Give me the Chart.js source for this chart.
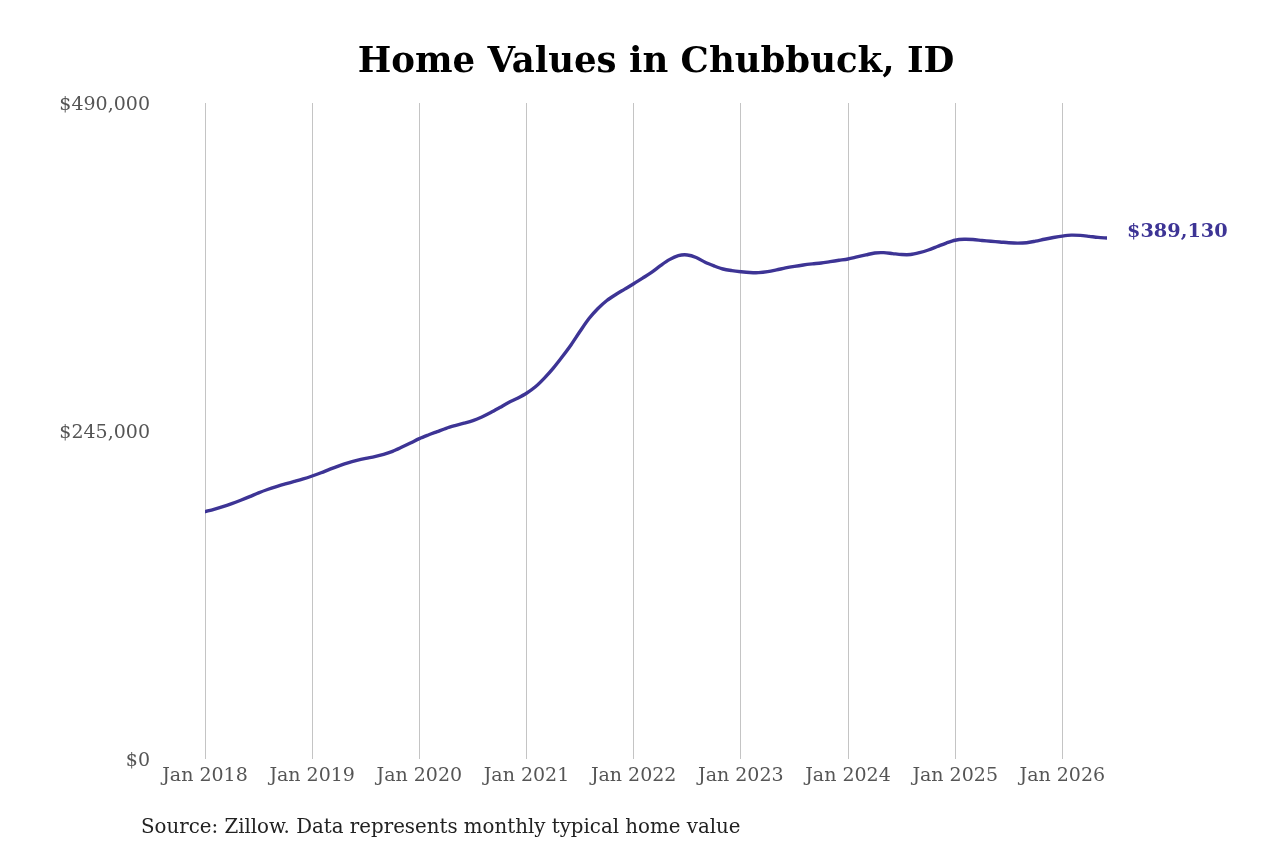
<!DOCTYPE html>
<html><head><meta charset="utf-8">
<script src="https://cdn.jsdelivr.net/npm/chart.js@4.4.1/dist/chart.umd.min.js"></script>
<style>html,body{margin:0;padding:0;background:#fff;overflow:hidden}#wrap{width:1280px;height:853px;position:relative}</style>
</head><body><div id="wrap"><canvas id="c" width="1280" height="853"></canvas></div>
<script>
const months = [
'Jan 2018','Feb 2018','Mar 2018','Apr 2018','May 2018','Jun 2018','Jul 2018','Aug 2018','Sep 2018','Oct 2018','Nov 2018','Dec 2018',
'Jan 2019','Feb 2019','Mar 2019','Apr 2019','May 2019','Jun 2019','Jul 2019','Aug 2019','Sep 2019','Oct 2019','Nov 2019','Dec 2019',
'Jan 2020','Feb 2020','Mar 2020','Apr 2020','May 2020','Jun 2020','Jul 2020','Aug 2020','Sep 2020','Oct 2020','Nov 2020','Dec 2020',
'Jan 2021','Feb 2021','Mar 2021','Apr 2021','May 2021','Jun 2021','Jul 2021','Aug 2021','Sep 2021','Oct 2021','Nov 2021','Dec 2021',
'Jan 2022','Feb 2022','Mar 2022','Apr 2022','May 2022','Jun 2022','Jul 2022','Aug 2022','Sep 2022','Oct 2022','Nov 2022','Dec 2022',
'Jan 2023','Feb 2023','Mar 2023','Apr 2023','May 2023','Jun 2023','Jul 2023','Aug 2023','Sep 2023','Oct 2023','Nov 2023','Dec 2023',
'Jan 2024','Feb 2024','Mar 2024','Apr 2024','May 2024','Jun 2024','Jul 2024','Aug 2024','Sep 2024','Oct 2024','Nov 2024','Dec 2024',
'Jan 2025','Feb 2025','Mar 2025','Apr 2025','May 2025','Jun 2025','Jul 2025','Aug 2025','Sep 2025','Oct 2025','Nov 2025','Dec 2025',
'Jan 2026','Feb 2026','Mar 2026','Apr 2026','May 2026','Jun 2026'
];
const homeValues = [
184700,186500,188500,190800,193300,196000,198800,201300,203500,205500,207300,209200,
211400,213800,216500,219000,221200,223000,224500,225800,227500,229800,232800,236000,
239300,242000,244500,247000,249000,250800,252800,255500,258800,262500,266300,269500,
273200,278000,284500,292000,300500,309500,319500,329000,336500,342500,347000,351000,
355000,359200,363500,368500,373000,376000,376500,374600,371000,368300,366000,364800,
364000,363400,363300,364000,365300,366800,368000,369000,369800,370500,371500,372500,
373500,375000,376500,378000,378200,377500,376800,376800,378200,380200,382800,385400,
387500,388200,388000,387300,386700,386200,385600,385300,385600,386800,388200,389500,
390600,391300,391100,390400,389600,389130
];
const xTickLabels = ['Jan 2018','Jan 2019','Jan 2020','Jan 2021','Jan 2022','Jan 2023','Jan 2024','Jan 2025','Jan 2026'];
const yTickValues = [0, 245000, 490000];
const titleText = 'Home Values in Chubbuck, ID';
const sourceText = 'Source: Zillow. Data represents monthly typical home value';

const LINE_COLOR = '#3d3495';
const FONT = "'DejaVu Serif', serif";
const fmt = v => '$' + Math.round(v).toLocaleString('en-US');

const textPlugin = {
  id: 'texts',
  afterDraw(chart) {
    const ctx = chart.ctx, ca = chart.chartArea;
    ctx.save();
    ctx.fillStyle = '#000';
    ctx.font = "bold 35.5px " + FONT;
    ctx.textAlign = 'center';
    ctx.textBaseline = 'middle';
    ctx.fillText(titleText, (ca.left + ca.right) / 2, 63);
    ctx.font = "19.8px " + FONT;
    ctx.fillStyle = '#222';
    ctx.textAlign = 'left';
    ctx.fillText(sourceText, 141, 828);
    const meta = chart.getDatasetMeta(0);
    const last = meta.data[meta.data.length - 1];
    ctx.font = "bold 19.3px " + FONT;
    ctx.fillStyle = LINE_COLOR;
    ctx.fillText(fmt(homeValues[homeValues.length - 1]), last.x + 20, last.y - 6);
    ctx.restore();
  }
};

new Chart(document.getElementById('c'), {
  type: 'line',
  data: {
    datasets: [{
      data: homeValues.map((v, i) => ({x: i, y: v})),
      borderColor: LINE_COLOR,
      borderWidth: 3.4,
      pointRadius: 0,
      tension: 0.3,
      borderCapStyle: 'round',
      fill: false
    }]
  },
  options: {
    responsive: false,
    animation: false,
    devicePixelRatio: 1,
    layout: { padding: { top: 103, right: 173, left: 0, bottom: 0 } },
    plugins: { legend: { display: false }, tooltip: { enabled: false } },
    scales: {
      x: {
        type: 'linear',
        min: 0,
        max: months.length - 1,
        afterBuildTicks: s => { s.ticks = xTickLabels.map(l => ({ value: months.indexOf(l) })); },
        afterFit: s => { s.height = 94; },
        ticks: {
          callback: v => months[v],
          maxRotation: 0, autoSkip: false, padding: 6,
          color: '#555', font: { family: FONT, size: 19 }
        },
        grid: { color: '#c4c4c4', lineWidth: 1, drawTicks: false },
        border: { display: false }
      },
      y: {
        min: 0,
        max: 490000,
        afterBuildTicks: s => { s.ticks = yTickValues.map(v => ({ value: v })); },
        afterFit: s => { s.width = 205; },
        ticks: {
          callback: v => fmt(v),
          padding: 55,
          labelOffset: 2,
          color: '#555', font: { family: FONT, size: 19 }
        },
        grid: { display: false, drawTicks: false },
        border: { display: false }
      }
    }
  },
  plugins: [textPlugin]
});
</script>
</body></html>
